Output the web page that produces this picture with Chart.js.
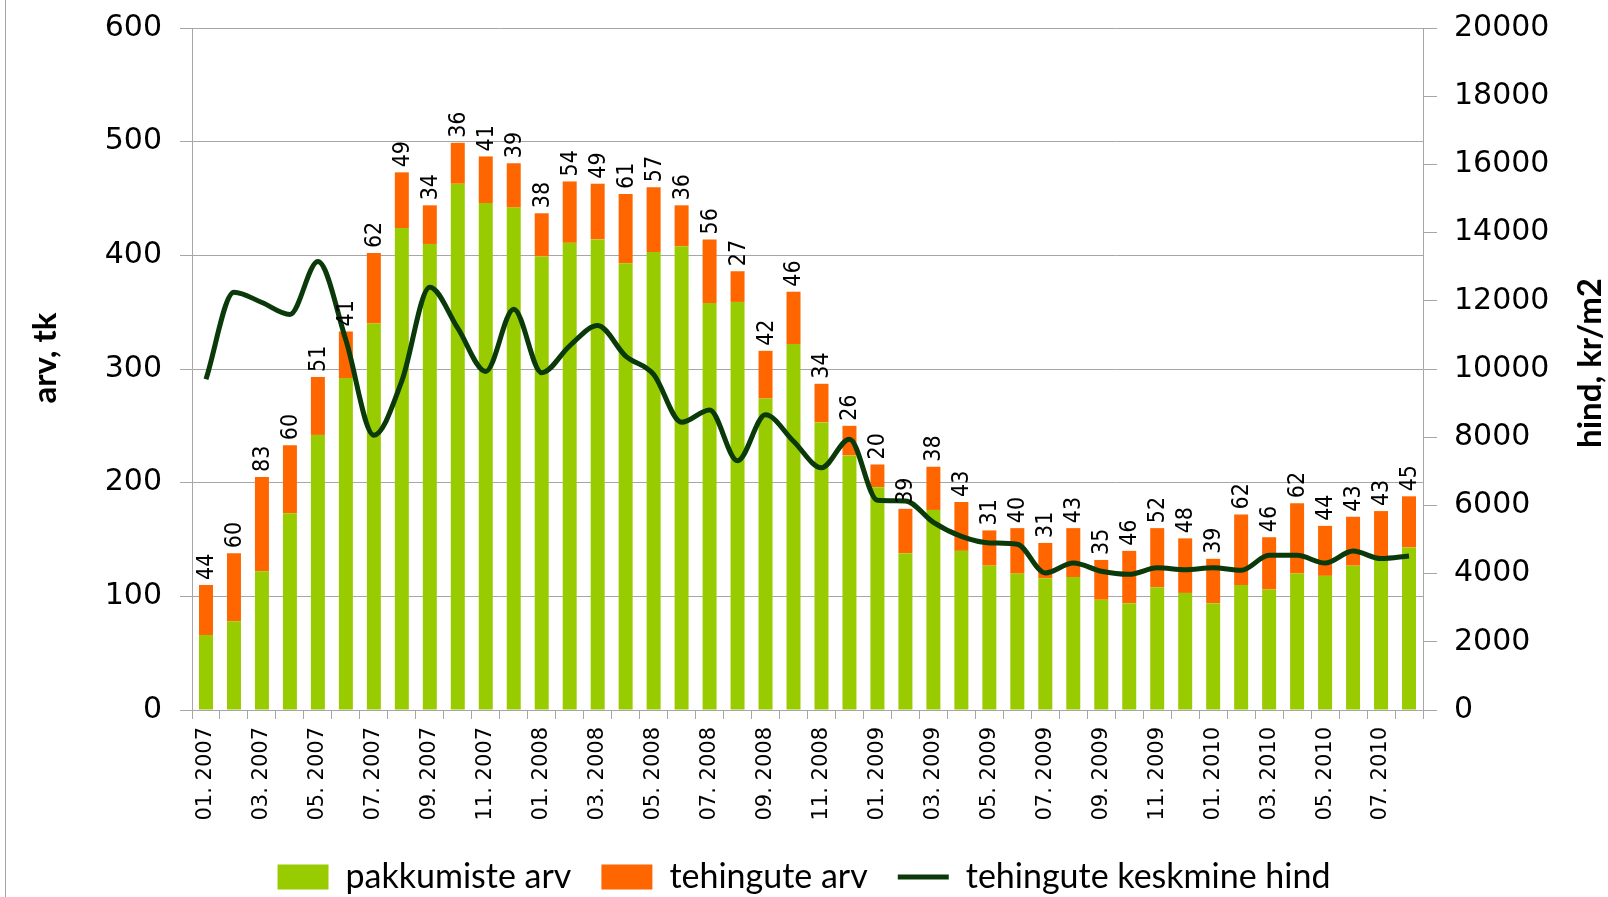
<!DOCTYPE html>
<html>
<head>
<meta charset="utf-8">
<script src="https://cdn.jsdelivr.net/npm/chart.js@4.4.1/dist/chart.umd.min.js"></script>
<style>
  body { margin: 0; background: #fff; }
  #wrap { position: relative; width: 1608px; height: 897px; }
  #edge { position: absolute; left: 5px; top: 0; width: 1px; height: 897px; background: #a6a6a6; }
</style>
</head>
<body>
<div id="wrap">
  <canvas id="chart" width="1608" height="897"></canvas>
  <div id="edge"></div>
</div>
<script>
const months = [
  '01. 2007', '02. 2007', '03. 2007', '04. 2007', '05. 2007', '06. 2007',
  '07. 2007', '08. 2007', '09. 2007', '10. 2007', '11. 2007', '12. 2007',
  '01. 2008', '02. 2008', '03. 2008', '04. 2008', '05. 2008', '06. 2008',
  '07. 2008', '08. 2008', '09. 2008', '10. 2008', '11. 2008', '12. 2008',
  '01. 2009', '02. 2009', '03. 2009', '04. 2009', '05. 2009', '06. 2009',
  '07. 2009', '08. 2009', '09. 2009', '10. 2009', '11. 2009', '12. 2009',
  '01. 2010', '02. 2010', '03. 2010', '04. 2010', '05. 2010', '06. 2010',
  '07. 2010', '08. 2010'
];

// pakkumiste arv (green part of the stack)
const pakkumised = [
  66, 78, 122, 173, 242, 292, 340, 424, 410, 463, 446, 442,
  399, 411, 414, 393, 403, 408, 358, 359, 274, 322, 253, 224,
  196, 138, 176, 140, 127, 120, 116, 117, 97, 94, 108, 103,
  94, 110, 106, 120, 118, 127, 132, 143
];

// tehingute arv (orange part, also the numbers above the bars)
const tehingud = [
  44, 60, 83, 60, 51, 41, 62, 49, 34, 36, 41, 39,
  38, 54, 49, 61, 57, 36, 56, 27, 42, 46, 34, 26,
  20, 39, 38, 43, 31, 40, 31, 43, 35, 46, 52, 48,
  39, 62, 46, 62, 44, 43, 43, 45
];

// tehingute keskmine hind, kr/m2
const keskmineHind = [
  9700, 12250, 11950, 11600, 13150, 10850, 8060, 9650, 12400, 11200, 9930, 11750,
  9890, 10680, 11275, 10380, 9845, 8440, 8800, 7310, 8655, 7880, 7105, 7940,
  6150, 6130, 5500, 5090, 4900, 4860, 4020, 4310, 4070, 3980, 4170, 4115,
  4170, 4095, 4535, 4535, 4310, 4660, 4440, 4515
];

const GREEN = '#99cc00';
const ORANGE = '#ff6600';
const LINE = '#0a3a0a';
const GRID = '#a6a6a6';

// numbers above bars + axis titles
const extraText = {
  id: 'extraText',
  afterDatasetsDraw(chart) {
    const ctx = chart.ctx;
    const meta = chart.getDatasetMeta(1);
    ctx.save();
    ctx.font = '23px "Liberation Sans Narrow", "DejaVu Sans Condensed", sans-serif';
    ctx.fillStyle = '#000';
    ctx.textAlign = 'left';
    ctx.textBaseline = 'middle';
    meta.data.forEach((bar, i) => {
      ctx.save();
      ctx.translate(bar.x + 1, bar.y - 5);
      ctx.rotate(-Math.PI / 2);
      ctx.fillText(String(tehingud[i]), 0, 0);
      ctx.restore();
    });
    ctx.restore();
  },
  afterDraw(chart) {
    const ctx = chart.ctx;
    const area = chart.chartArea;
    const midY = (area.top + area.bottom) / 2;
    ctx.save();
    ctx.font = 'bold 33px Lato, sans-serif';
    ctx.fillStyle = '#000';
    ctx.textAlign = 'center';
    ctx.textBaseline = 'middle';

    ctx.save();
    ctx.translate(chart.scales.y.left + 45, midY - 11);
    ctx.rotate(-Math.PI / 2);
    ctx.fillText('arv, tk', 0, 0);
    ctx.restore();

    ctx.save();
    ctx.translate(chart.scales.y2.right - 18, midY - 6);
    ctx.rotate(-Math.PI / 2);
    ctx.fillText('hind, kr/m2', 0, 0);
    ctx.restore();

    ctx.restore();
  }
};

new Chart(document.getElementById('chart'), {
  type: 'bar',
  data: {
    labels: months,
    datasets: [
      {
        label: 'pakkumiste arv',
        data: pakkumised,
        backgroundColor: GREEN,
        borderWidth: 0,
        pointStyle: 'rect',
        yAxisID: 'y',
        order: 1,
        categoryPercentage: 1,
        barPercentage: 0.5
      },
      {
        label: 'tehingute arv',
        data: tehingud,
        backgroundColor: ORANGE,
        borderWidth: 0,
        pointStyle: 'rect',
        yAxisID: 'y',
        order: 1,
        categoryPercentage: 1,
        barPercentage: 0.5
      },
      {
        type: 'line',
        label: 'tehingute keskmine hind',
        data: keskmineHind,
        borderColor: LINE,
        backgroundColor: LINE,
        borderWidth: 5,
        pointRadius: 0,
        pointStyle: 'line',
        cubicInterpolationMode: 'monotone',
        yAxisID: 'y2',
        order: 0
      }
    ]
  },
  options: {
    responsive: false,
    animation: false,
    devicePixelRatio: 1,
    layout: { padding: { top: 28, left: 0, right: 0, bottom: -7 } },
    plugins: {
      tooltip: { enabled: false },
      legend: {
        position: 'bottom',
        labels: {
          usePointStyle: true,
          pointStyleWidth: 51,
          boxHeight: 25,
          color: '#000',
          padding: 30,
          font: { family: 'Lato', size: 34 },
          sort: (a, b) => a.datasetIndex - b.datasetIndex
        }
      }
    },
    scales: {
      x: {
        stacked: true,
        grid: { offset: true, drawOnChartArea: false, tickLength: 9, color: GRID },
        border: { color: GRID },
        ticks: {
          autoSkip: false,
          minRotation: 90,
          maxRotation: 90,
          padding: 8,
          color: '#000',
          font: { family: 'DejaVu Sans', size: 21 },
          callback: (v, i) => (i % 2 === 0 ? months[i] : '')
        },
        afterFit: (scale) => {
          const legendH = scale.chart.legend ? scale.chart.legend.height : 0;
          scale.height = scale.chart.height + 7 - 710 - legendH;
        }
      },
      y: {
        stacked: true,
        position: 'left',
        min: 0,
        max: 600,
        ticks: {
          stepSize: 100,
          padding: 18,
          color: '#000',
          font: { family: 'DejaVu Sans', size: 30 }
        },
        grid: { color: GRID, tickLength: 12 },
        border: { color: GRID },
        afterFit: (scale) => {
          scale.width = 192;
          scale.paddingTop = 10;
          scale.paddingBottom = 10;
        }
      },
      y2: {
        position: 'right',
        min: 0,
        max: 20000,
        ticks: {
          stepSize: 2000,
          padding: 17,
          color: '#000',
          font: { family: 'DejaVu Sans', size: 30 },
          callback: (v) => String(v)
        },
        grid: { drawOnChartArea: false, color: GRID, tickLength: 14 },
        border: { color: GRID },
        afterFit: (scale) => {
          scale.width = 185;
          scale.paddingTop = 10;
          scale.paddingBottom = 10;
        }
      }
    }
  },
  plugins: [extraText]
});
</script>
</body>
</html>
